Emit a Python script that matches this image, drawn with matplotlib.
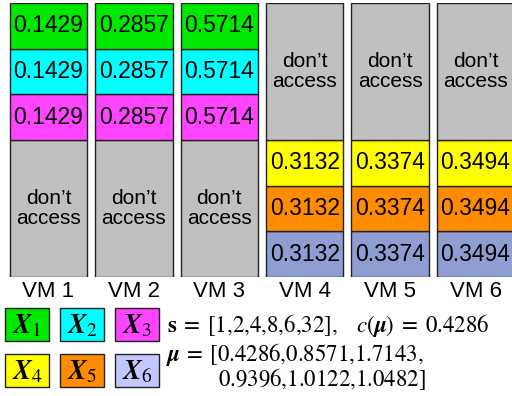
import matplotlib
matplotlib.use("Agg")
import matplotlib.pyplot as plt
from matplotlib.patches import Rectangle

plt.rcParams["mathtext.fontset"] = "stix"

# ---- data -------------------------------------------------------------
vm_labels = ["VM 1", "VM 2", "VM 3", "VM 4", "VM 5", "VM 6"]
access_prob = [0.1429, 0.2857, 0.5714, 0.3132, 0.3374, 0.3494]
file_labels = [r"$\mathbfit{X}_{1}$", r"$\mathbfit{X}_{2}$", r"$\mathbfit{X}_{3}$",
               r"$\mathbfit{X}_{4}$", r"$\mathbfit{X}_{5}$", r"$\mathbfit{X}_{6}$"]
# files accessed by each VM, listed top to bottom
vm_files = [[0, 1, 2], [0, 1, 2], [0, 1, 2], [3, 4, 5], [3, 4, 5], [3, 4, 5]]
# whether the "don't access" block sits at the bottom of the column
idle_at_bottom = [True, True, True, False, False, False]
s_vals = [1, 2, 4, 8, 6, 32]
mu_vals = [0.4286, 0.8571, 1.7143, 0.9396, 1.0122, 1.0482]
cost = 0.4286

# ---- styling ------------------------------------------------------------
file_colors = ["#00e800", "#00ffff", "#ff44ff", "#ffff00", "#ff8c00", "#8f9dd2"]
legend_colors = ["#00e800", "#00ffff", "#ff44ff", "#ffff00", "#ff8c00", "#c2c8ff"]
idle_color = "#c0c0c0"
edge = "#222222"
slot_h = 1.0
idle_h = 3.0
bar_w = 0.905

W, H = 512, 396
fig = plt.figure(figsize=(W / 100, H / 100), dpi=100)

# main column diagram
ax = fig.add_axes([0, (H - 277) / H, 1, 274 / H])
px_per_unit = 85.4
x0 = -48.5 / px_per_unit
ax.set_xlim(x0, x0 + W / px_per_unit)
ax.set_ylim(0, idle_h + 3 * slot_h)

sans = "Liberation Sans"
for i, (files, bottom_idle) in enumerate(zip(vm_files, idle_at_bottom)):
    base = 0.0
    if bottom_idle:
        segs = [("idle", idle_h)] + [(f, slot_h) for f in reversed(files)]
    else:
        segs = [(f, slot_h) for f in reversed(files)] + [("idle", idle_h)]
    for key, h in segs:
        color = idle_color if key == "idle" else file_colors[key]
        ax.bar(i, h, bottom=base, width=bar_w, color=color,
               edgecolor=edge, linewidth=1.0, clip_on=True)
        if key == "idle":
            ax.text(i, base + h / 2, "don\u2019t\naccess", ha="center",
                    va="center", fontsize=15, family=sans, linespacing=1.1)
        else:
            ax.text(i, base + h / 2, f"{access_prob[i]:.4f}", ha="center",
                    va="center", fontsize=16.5, family=sans)
        base += h

ax.set_xticks(range(len(vm_labels)))
ax.set_xticklabels(vm_labels, fontsize=16, family=sans)
ax.tick_params(axis="x", length=0, pad=3)
ax.set_yticks([])
for sp in ax.spines.values():
    sp.set_visible(False)

# legend and formulas (pixel overlay)
ov = fig.add_axes([0, 0, 1, 1])
ov.set_xlim(0, W)
ov.set_ylim(H, 0)
ov.axis("off")

box_x = [5, 60, 115]
box_y = [308, 354]
box_w, box_h = 44, 33
for k in range(6):
    r, c = divmod(k, 3)
    ov.add_patch(Rectangle((box_x[c], box_y[r]), box_w, box_h,
                           facecolor=legend_colors[k], edgecolor=edge, lw=1.0))
    ov.text(box_x[c] + box_w / 2, box_y[r] + box_h / 2 + 1, file_labels[k],
            ha="center", va="center", fontsize=20)


def seq(vals):
    # comma-separated list without extra math spacing after commas
    return "{,}".join(vals)


s_txt = seq(str(v) for v in s_vals)
mu_txt = [f"{v:.4f}" for v in mu_vals]
fs = 16.5
ov.text(167, 332, r"$\mathbf{s}\;=\;[" + s_txt + r"]{,}\quad\,c(\boldsymbol{\mu})\;=\;"
        + f"{cost:.4f}$", ha="left", va="baseline", fontsize=fs)
ov.text(166, 361, r"$\boldsymbol{\mu}\:=\:[" + seq(mu_txt[:3]) + "{,}$",
        ha="left", va="baseline", fontsize=fs)
ov.text(218, 386, "$" + seq(mu_txt[3:]) + "]$",
        ha="left", va="baseline", fontsize=fs)

fig.savefig("out.png", dpi=100)
